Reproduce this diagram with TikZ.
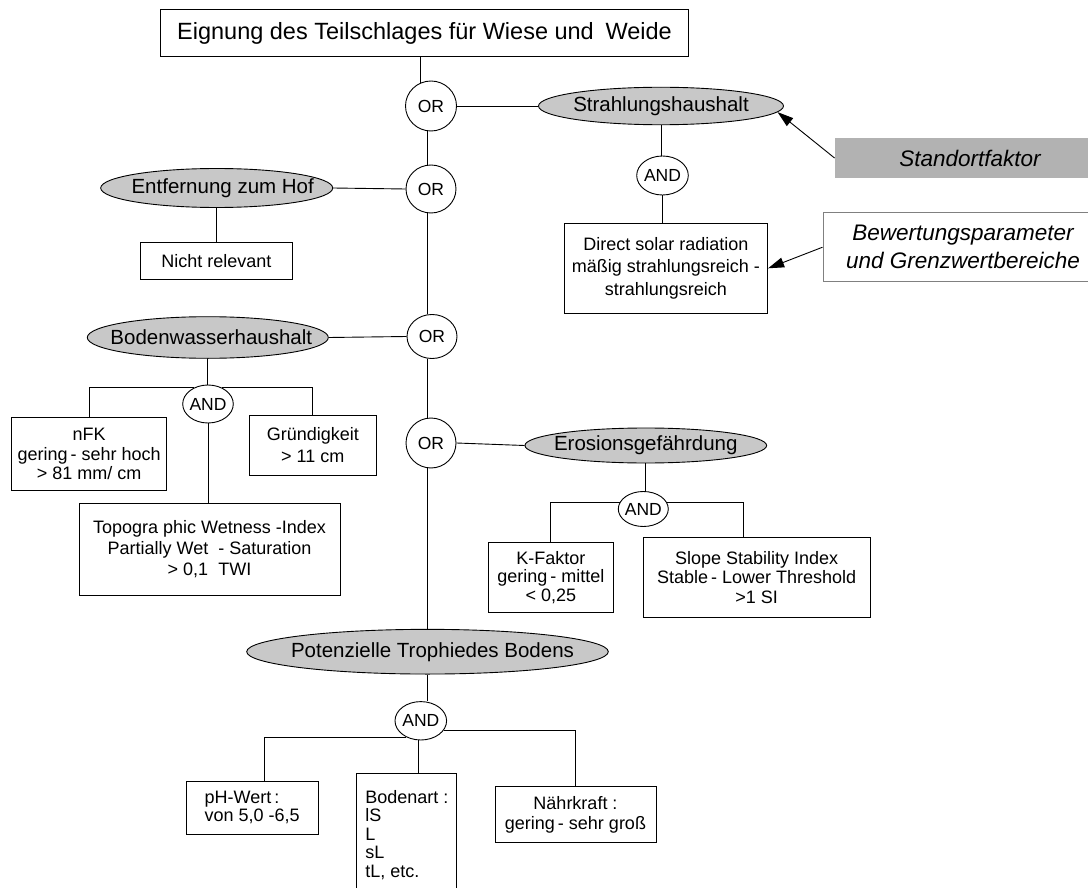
\documentclass[tikz,border=0pt]{standalone}
\usepackage{fontspec}
\setmainfont{Liberation Sans}
\usetikzlibrary{shapes.geometric,arrows.meta,calc}
\definecolor{ellgray}{RGB}{200,200,200}
\definecolor{notegray}{RGB}{178,178,178}
\definecolor{framegray}{RGB}{128,128,128}
\newcommand{\fTitle}{\fontsize{23.5}{28}\selectfont}
\newcommand{\fEll}{\fontsize{20.5}{24}\selectfont}
\newcommand{\fGate}{\fontsize{17.5}{20}\selectfont}
\newcommand{\fBox}{\fontsize{18}{20.5}\selectfont}
\newcommand{\fNote}{\fontsize{22.5}{28.3}\selectfont\itshape}
\begin{document}
\begin{tikzpicture}[x=1pt,y=-1pt,line width=0.9pt,
  gate/.style={ellipse,draw,fill=white,inner sep=0pt,minimum width=50pt,minimum height=48pt,font=\fGate},
  factor/.style={ellipse,draw,fill=ellgray,inner sep=0pt,font=\fEll},
  param/.style={rectangle,draw,fill=white,inner sep=0pt,align=center,font=\fBox},
  pointer/.style={-{Triangle[length=16pt,width=10pt]},line width=0.9pt}]
\useasboundingbox (0,0) rectangle (1088,888);

% goal
\node[draw,inner sep=0pt,minimum width=528pt,minimum height=46.7pt,font=\fTitle] (title) at (424.5,33.3)
  {Eignung des Teilschlages für Wiese und\enspace Weide};

% OR gates on the main spine
\node[gate,minimum width=51pt,minimum height=50pt] (or1) at (431,106) {OR};
\node[gate] (or2) at (431,189) {OR};
\node[gate,minimum height=44pt] (or3) at (432,336.5) {OR};
\node[gate,minimum height=50pt] (or4) at (431,443) {OR};

% site factors
\node[factor,minimum width=245pt,minimum height=37.5pt] (strahl) at (661,106) {\makebox[0pt]{Strahlungshaushalt}};
\node[factor,minimum width=232pt,minimum height=39pt] (entf) at (216.7,188) {\makebox[0pt]{\hspace{12pt}Entfernung zum Hof}};
\node[factor,minimum width=241pt,minimum height=41.6pt] (boden) at (207.8,337.5) {\makebox[0pt]{\hspace{7pt}Bodenwasserhaushalt}};
\node[factor,minimum width=241.7pt,minimum height=35pt] (eros) at (645.8,445.5) {\makebox[0pt]{Erosionsgefährdung}};
\node[factor,minimum width=361.6pt,minimum height=44.7pt] (pot) at (427.5,651.7) {\makebox[0pt]{\hspace{10pt}Potenzielle Trophiedes Bodens}};

% AND gates
\node[gate,minimum width=51.6pt,minimum height=39pt] (andS) at (662.5,175.5) {\makebox[0pt]{AND}};
\node[gate,minimum width=50.6pt,minimum height=38pt] (andB) at (208,404) {\makebox[0pt]{AND}};
\node[gate,minimum width=50pt,minimum height=35pt] (andE) at (643.3,509) {\makebox[0pt]{AND}};
\node[gate,minimum width=51.6pt,minimum height=38.4pt] (andP) at (420.8,720.8) {\makebox[0pt]{AND}};

% assessment parameters
\node[param,minimum width=203.7pt,minimum height=90pt,font=\fontsize{18}{22.5}\selectfont] (direct) at (665.8,268.3)
  {Direct solar radiation\\mäßig strahlungsreich -\\strahlungsreich};
\node[param,minimum width=151.6pt,minimum height=36.7pt] (nicht) at (216.5,260.7) {Nicht relevant};
\node[param,minimum width=155pt,minimum height=73.4pt,font=\fontsize{18}{19.5}\selectfont] (nfk) at (89.2,454)
  {nFK\\gering\,- sehr hoch\\> 81 mm/ cm};
\node[param,minimum width=127.7pt,minimum height=60pt,font=\fontsize{18}{22}\selectfont] (grund) at (312.8,445)
  {Gründigkeit\\> 11 cm};
\node[param,minimum width=261pt,minimum height=91.7pt,font=\fontsize{18}{21}\selectfont] (twi) at (209.5,549.2)
  {Topogra phic Wetness -Index\\Partially Wet\ \ - Saturation\\> 0,1\ \ TWI};
\node[param,minimum width=125pt,minimum height=69.6pt,font=\fontsize{18}{18.5}\selectfont] (kfak) at (550.8,577.5)
  {K-Faktor\\gering\,- mittel\\< 0,25};
\node[param,minimum width=226.7pt,minimum height=79.6pt,font=\fontsize{18}{19.5}\selectfont] (slope) at (756.7,577.5)
  {Slope Stability Index\\Stable\,- Lower Threshold\\>1 SI};
\node[param,minimum width=132.3pt,minimum height=53pt,align=left,font=\fontsize{18}{18}\selectfont] (ph) at (252.2,807.5)
  {pH-Wert\,:\\von 5,0 -6,5};
\node[param,minimum width=100.7pt,minimum height=122pt,anchor=north] (bodenart) at (406.3,772.7) {};
\node[font=\fontsize{18}{18.5}\selectfont,align=left,anchor=north west,inner sep=0pt] (bodenartText) at (365,790)
  {Bodenart :\\lS\\L\\sL\\tL, etc.};
\node[param,minimum width=161pt,minimum height=56pt,font=\fontsize{18}{19.5}\selectfont] (naehr) at (575.5,814.7)
  {Nährkraft :\\gering\,- sehr groß};

% legend
\node[fill=notegray,minimum width=270pt,minimum height=40.6pt,inner sep=0pt,font=\fNote] (stand) at (970,158) {Standortfaktor};
\node[draw=framegray,fill=white,minimum width=280pt,minimum height=69pt,inner sep=0pt,align=center,font=\fNote] (bew) at (963,247.2)
  {Bewertungsparameter\\und Grenzwertbereiche};

% connectors
\coordinate (xspine) at (427,0);
\coordinate (slopeIn) at (743.3,0);
\coordinate (phIn) at (264.3,0);
\coordinate (bodIn) at (418.3,0);

\draw (title.south -| or1.115) -- (or1.115);
\draw (or1.east) -- (strahl.west);
\draw (xspine |- or1.south) -- (xspine |- or2.north);
\draw (xspine |- or2.south) -- (xspine |- or3.north);
\draw (xspine |- or3.south) -- (xspine |- or4.north);
\draw (xspine |- or4.south) -- (xspine |- pot.north);

\draw (strahl.south) -- (strahl.south |- andS.north);
\draw (andS.south) -- (andS.south |- direct.north);

\draw (entf.east) -- (or2.west);
\draw (entf.south) -- (entf.south |- nicht.north);

\draw (boden.east) -- (or3.west);
\draw (boden.south) -- (boden.south |- andB.north);
\draw (andB.130) -| (nfk.north);
\draw (andB.50) -| (grund.north);
\draw (andB.south) -- (andB.south |- twi.north);

\draw (or4.east) -- (eros.west);
\draw (eros.south) -- (eros.south |- andE.north);
\draw (andE.165) -| (kfak.north);
\draw (andE.15) -| (slopeIn |- slope.north);

\draw (pot.south) -- (pot.south |- andP.north);
\draw (andP.228) -| (phIn |- ph.north);
\draw (andP.-22) -| (naehr.north);
\draw (bodIn |- andP.south) -- (bodIn |- bodenart.north);

\draw[pointer] (stand.west) -- (strahl.-3.5);
\draw[pointer] (bew.west) -- (direct.east);
\end{tikzpicture}
\end{document}
